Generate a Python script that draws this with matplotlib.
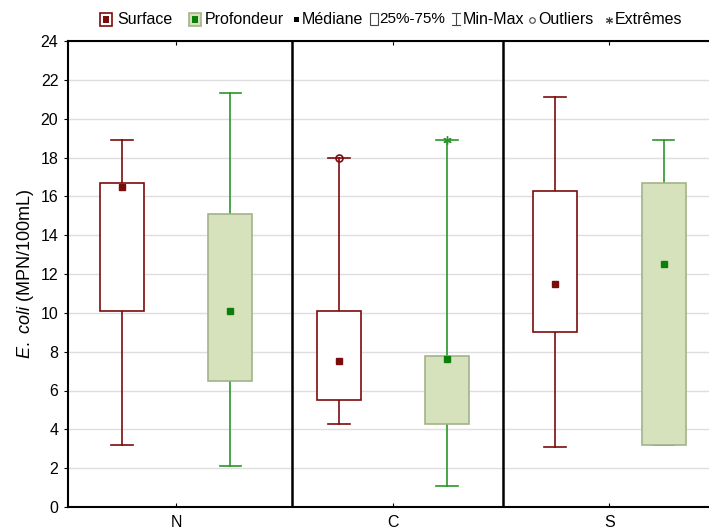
import matplotlib
matplotlib.use("Agg")
import matplotlib.pyplot as plt
from matplotlib.patches import Rectangle

plt.rcParams['font.family'] = ['Liberation Sans', 'DejaVu Sans']
plt.rcParams['mathtext.fontset'] = 'custom'
plt.rcParams['mathtext.rm'] = 'Liberation Sans'
plt.rcParams['mathtext.it'] = 'Liberation Sans:italic'

# ---- data ----
sites = ["N", "C", "S"]
surf_min = [3.2, 4.3, 3.1]
surf_q1 = [10.1, 5.5, 9.0]
surf_med = [16.5, 7.5, 11.5]
surf_q3 = [16.7, 10.1, 16.3]
surf_max = [18.9, 18.0, 21.1]
prof_min = [2.1, 1.1, 3.2]
prof_q1 = [6.5, 4.3, 3.2]
prof_med = [10.1, 7.6, 12.5]
prof_q3 = [15.1, 7.8, 16.7]
prof_max = [21.3, 18.9, 18.9]
surf_outliers_x = ["C"]
surf_outliers_y = [18.0]
prof_extremes_x = ["C"]
prof_extremes_y = [18.9]
yticks = list(range(0, 25, 2))
legend_labels = ["Surface", "Profondeur", "Médiane", "25%-75%", "Min-Max", "Outliers", "Extrêmes"]

# ---- style ----
SURF_C = "#7a0c0c"
PROF_LINE = "#2a962a"
PROF_MED = "#0a800a"
PROF_FILL = "#d6e2bc"
PROF_EDGE = "#a3b38a"

W, H = 709, 531
fig = plt.figure(figsize=(W / 100, H / 100), dpi=100)
ax = fig.add_axes([68 / W, (H - 507) / H, (709 - 68) / W, (507 - 41) / H])

offset = 0.25
bw = 0.203
cap = 0.1


def draw(i, mn, q1, md, q3, mx, line_c, fill, edge, med_c):
    ax.plot([i, i], [mn, q1], color=line_c, lw=1.2, zorder=3)
    ax.plot([i, i], [q3, mx], color=line_c, lw=1.2, zorder=3)
    ax.plot([i - cap / 2, i + cap / 2], [mn, mn], color=line_c, lw=1.2, zorder=3)
    ax.plot([i - cap / 2, i + cap / 2], [mx, mx], color=line_c, lw=1.2, zorder=3)
    ax.add_patch(Rectangle((i - bw / 2, q1), bw, q3 - q1, facecolor=fill,
                           edgecolor=edge, lw=1.2, zorder=4))
    ax.plot([i], [md], marker="s", ms=5, color=med_c, ls="none", zorder=5)


for k, s in enumerate(sites):
    draw(k - offset, surf_min[k], surf_q1[k], surf_med[k], surf_q3[k], surf_max[k],
         SURF_C, "white", SURF_C, SURF_C)
    draw(k + offset, prof_min[k], prof_q1[k], prof_med[k], prof_q3[k], prof_max[k],
         PROF_LINE, PROF_FILL, PROF_EDGE, PROF_MED)

for sx, sy in zip(surf_outliers_x, surf_outliers_y):
    ax.plot([sites.index(sx) - offset], [sy], marker="o", ms=5, mfc="none",
            mec=SURF_C, mew=1.2, ls="none", zorder=6)
for sx, sy in zip(prof_extremes_x, prof_extremes_y):
    ax.plot([sites.index(sx) + offset], [sy], marker=(6, 2, 0), ms=6,
            color=PROF_LINE, mew=1.0, ls="none", zorder=6)

ax.set_xlim(-0.5, 2.46)
ax.set_ylim(0, 24)
ax.set_yticks(yticks)
ax.set_xticks(range(len(sites)))
ax.set_xticklabels(sites)
ax.yaxis.grid(True, color="#dedede", lw=1)
ax.set_axisbelow(True)
for x in (0.535, 1.51):
    ax.axvline(x, color="black", lw=1.8, zorder=7)
for side in ("left", "bottom", "top"):
    ax.spines[side].set_color("black")
    ax.spines[side].set_linewidth(1.5)
ax.spines["right"].set_visible(False)
ax.tick_params(axis="y", direction="out", length=3, width=0.8, labelsize=11.5, pad=4)
ax.tick_params(axis="x", direction="in", length=3, width=0.8, labelsize=11.5, pad=6,
               top=True)
ax.set_ylabel(r"$\mathit{E.\ coli}$ (MPN/100mL)", fontsize=13, labelpad=3)

# ---- legend (manual, top) ----
lax = fig.add_axes([0, 0, 1, 1], zorder=10)
lax.set_xlim(0, W)
lax.set_ylim(H, 0)
lax.axis("off")
ly = 19
fs = 11.5
# Surface
lax.add_patch(Rectangle((100, ly - 6.5), 12, 13, facecolor="white", edgecolor=SURF_C, lw=1.2))
lax.add_patch(Rectangle((103, ly - 3.5), 6, 7, facecolor=SURF_C, edgecolor=SURF_C, lw=0))
lax.text(117, ly, legend_labels[0], fontsize=fs, va="center", ha="left")
# Profondeur
lax.add_patch(Rectangle((189, ly - 6.5), 12, 13, facecolor=PROF_FILL, edgecolor=PROF_EDGE, lw=1.2))
lax.add_patch(Rectangle((192, ly - 3.5), 6, 7, facecolor=PROF_MED, edgecolor=PROF_MED, lw=0))
lax.text(205, ly, legend_labels[1], fontsize=fs, va="center", ha="left")
# Mediane
lax.add_patch(Rectangle((294, ly - 2.5), 5, 5, facecolor="black", edgecolor="black", lw=0))
lax.text(302, ly, legend_labels[2], fontsize=fs, va="center", ha="left")
# 25-75
lax.add_patch(Rectangle((370, ly - 6), 8, 12, facecolor="white", edgecolor="#444444", lw=0.8))
lax.text(379, ly, legend_labels[3], fontsize=fs - 0.5, va="center", ha="left")
# Min-Max
lax.plot([456, 456], [ly - 6, ly + 6], color="#444444", lw=0.8)
lax.plot([452, 460], [ly - 6, ly - 6], color="#444444", lw=0.8)
lax.plot([452, 460], [ly + 6, ly + 6], color="#444444", lw=0.8)
lax.text(463, ly, legend_labels[4], fontsize=fs, va="center", ha="left")
# Outliers
lax.plot([532], [ly + 1], marker="o", ms=4, mfc="none", mec="#444444", mew=0.8)
lax.text(538, ly, legend_labels[5], fontsize=fs, va="center", ha="left")
# Extremes
lax.plot([609], [ly + 1], marker=(6, 2, 0), ms=5, color="#444444", mew=0.8)
lax.text(615, ly, legend_labels[6], fontsize=fs, va="center", ha="left")

fig.savefig("out.png", dpi=100)
